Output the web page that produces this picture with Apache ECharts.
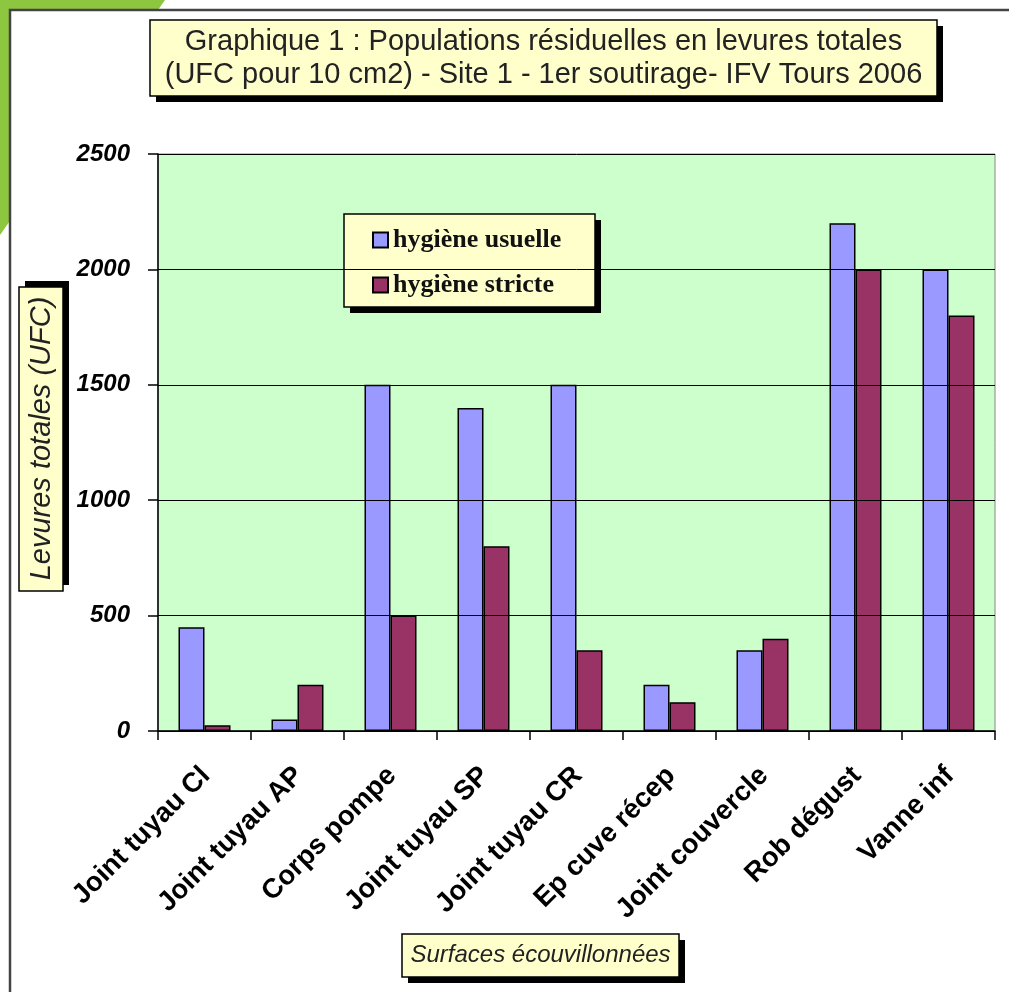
<!DOCTYPE html>
<html><head><meta charset="utf-8">
<script src="https://cdn.jsdelivr.net/npm/echarts@6/dist/echarts.min.js"></script>
<style>html,body{margin:0;padding:0;background:#fff}#c{width:1009px;height:992px}</style>
</head><body><div id="c"></div>
<script>
const categories = ['Joint tuyau Cl','Joint tuyau AP','Corps pompe','Joint tuyau SP','Joint tuyau CR','Ep cuve récep','Joint couvercle','Rob dégust','Vanne inf'];
const usuelle = [450, 50, 1500, 1400, 1500, 200, 350, 2200, 2000];
const stricte = [25, 200, 500, 800, 350, 125, 400, 2000, 1800];
const seriesNames = ['hygiène usuelle', 'hygiène stricte'];
const titleText = 'Graphique 1 : Populations résiduelles en levures totales\n(UFC pour 10 cm2) - Site 1 - 1er soutirage- IFV Tours 2006';
const xName = 'Surfaces écouvillonnées';
const yName = 'Levures totales (UFC)';

const chart = echarts.init(document.getElementById('c'), null, {renderer:'canvas'});
const sans = '"Liberation Sans", Arial, sans-serif';
const serif = '"Liberation Serif", "Times New Roman", serif';
const boxFill = '#FFFFCC';
function box(x, y, w, h, dx, dy, z) {
  return [
    {type:'rect', z:z, shape:{x:x+dx, y:y+dy, width:w, height:h}, style:{fill:'#000'}},
    {type:'rect', z:z, shape:{x:x, y:y, width:w, height:h}, style:{fill:boxFill, stroke:'#000', lineWidth:1.5}}
  ];
}
chart.setOption({
  animation: false,
  graphic: [
    {type:'polygon', z:-10, shape:{points:[[0,0],[165,0],[0,235]]}, style:{fill:'#8DC63F'}},
    {type:'rect', z:-9, shape:{x:10,y:10,width:1020,height:1000}, style:{fill:'#fff', stroke:'#444', lineWidth:2.5}},
    ...box(150, 20, 787, 76, 6, 6, -5),
    ...box(402, 934, 277, 43, 6, 6, -5),
    ...box(19, 287, 44, 304, 6, -6, -5),
    ...box(344, 214, 251, 93, 6, 6, 3)
  ],
  title: [
    {text: titleText, left: 543.5, top: 25.5, textAlign:'center', padding:0,
     textStyle:{fontFamily:sans, fontSize:29, fontWeight:'normal', color:'#222', lineHeight:33}},
    {text: xName, left: 540.5, top: 940.5, textAlign:'center', padding:0,
     textStyle:{fontFamily:sans, fontSize:24, fontStyle:'italic', fontWeight:'normal', color:'#222', lineHeight:30}}
  ],
  legend: {
    orient:'vertical', left:372, top:227, data: seriesNames, padding:0,
    itemGap:19, itemWidth:15, itemHeight:15, icon:'rect',
    textStyle:{fontFamily:serif, fontSize:26, fontWeight:'bold', color:'#111'}
  },
  grid: {left:158, right:14, top:154, bottom:261, show:true, backgroundColor:'#CCFFCC', borderColor:'#888', borderWidth:1},
  xAxis: {
    type:'category', data: categories,
    axisLine:{lineStyle:{color:'#000', width:1.5}},
    axisTick:{show:true, length:9, lineStyle:{color:'#000', width:1.5}},
    axisLabel:{rotate:45, margin:22, interval:0, verticalAlign:'top', align:'right', padding:[0,12,0,0],
      fontFamily:sans, fontSize:27.5, fontWeight:'bold', color:'#000'}
  },
  yAxis: {
    type:'value', min:0, max:2500, interval:500, z:5,
    name: yName, nameLocation:'middle', nameRotate:90, nameGap:102,
    nameTextStyle:{fontFamily:sans, fontSize:29, fontStyle:'italic', color:'#222', padding:[0,0,0,8]},
    axisLine:{show:true, lineStyle:{color:'#000', width:1.5}},
    axisTick:{show:true, length:10, lineStyle:{color:'#000', width:1.5}},
    axisLabel:{margin:28, formatter: v => String(v), fontFamily:sans, fontSize:24, fontWeight:'bold', fontStyle:'italic', color:'#000'},
    splitLine:{show:true, lineStyle:{color:'#000', width:1}}
  },
  series: [
    {name: seriesNames[0], type:'bar', data: usuelle, barWidth:26, barGap:'0%',
     itemStyle:{color:'#9999FF', borderColor:'#000', borderWidth:1.5}},
    {name: seriesNames[1], type:'bar', data: stricte, barWidth:26, barGap:'0%',
     itemStyle:{color:'#993366', borderColor:'#000', borderWidth:1.5}}
  ]
});
</script></body></html>
